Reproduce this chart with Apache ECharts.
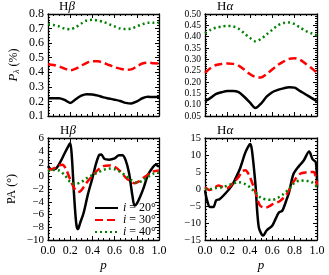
<!DOCTYPE html>
<html><head><meta charset="utf-8">
<script src="https://cdn.jsdelivr.net/npm/echarts@6/dist/echarts.min.js"></script>
<style>html,body{margin:0;padding:0;background:#fff}#c{width:329px;height:275px}</style>
</head><body><div id="c"></div>
<script>
// ---- data ----
const pGrid = [0,0.05,0.1,0.15,0.2,0.25,0.3,0.35,0.4,0.45,0.5,0.55,0.6,0.65,0.7,0.75,0.8,0.85,0.9,0.95,1.0];
// Polarization degree (%) Hbeta
const hbP20 = [0.222,0.222,0.222,0.21,0.19,0.215,0.24,0.25,0.248,0.24,0.228,0.22,0.212,0.203,0.19,0.185,0.2,0.222,0.232,0.23,0.232];
const hbP30 = [0.455,0.45,0.44,0.425,0.413,0.425,0.445,0.465,0.476,0.475,0.465,0.45,0.435,0.425,0.418,0.42,0.44,0.46,0.466,0.462,0.46];
const hbP40 = [0.73,0.725,0.715,0.7,0.695,0.71,0.735,0.755,0.76,0.755,0.745,0.73,0.715,0.7,0.697,0.7,0.715,0.73,0.74,0.74,0.74];
// Polarization degree (%) Halpha
const haP20 = [0.115,0.13,0.148,0.155,0.16,0.16,0.155,0.135,0.11,0.085,0.105,0.135,0.155,0.165,0.172,0.177,0.175,0.16,0.145,0.13,0.115];
const haP30 = [0.24,0.262,0.275,0.28,0.282,0.28,0.272,0.255,0.235,0.222,0.22,0.235,0.255,0.275,0.29,0.302,0.305,0.298,0.28,0.262,0.24];
const haP40 = [0.415,0.43,0.44,0.445,0.447,0.445,0.435,0.415,0.395,0.38,0.39,0.41,0.43,0.45,0.46,0.463,0.455,0.44,0.425,0.415,0.405];
// Polarization angle (deg) Hbeta
const hbPA20p = [0,0.03,0.07,0.11,0.15,0.18,0.2,0.215,0.235,0.255,0.27,0.29,0.32,0.36,0.4,0.43,0.46,0.48,0.51,0.55,0.6,0.64,0.67,0.7,0.73,0.76,0.78,0.8,0.83,0.86,0.9,0.94,0.97,1.0];
const hbPA20 = [1.6,1.1,1.2,2.2,3.6,4.6,5.2,3.0,-3.0,-7.5,-8.3,-7.3,-5.8,-2.8,-0.3,1.8,3.3,3.4,2.7,2.6,2.8,3.3,3.3,2.5,0.5,-3.0,-4.6,-4.3,-3.2,-1.9,0.2,1.3,1.8,1.5];
const hbPA30p = [0,0.05,0.1,0.13,0.16,0.2,0.24,0.27,0.3,0.34,0.4,0.45,0.5,0.55,0.6,0.65,0.7,0.75,0.78,0.82,0.88,0.94,1.0];
const hbPA30 = [1.0,1.2,1.7,1.8,1.2,-0.5,-2.0,-2.5,-2.2,-1.2,0.1,1.0,1.6,1.7,1.5,0.8,-0.2,-0.9,-1.1,-0.8,0.0,0.7,0.9];
const hbPA40 = [0.8,1.0,0.9,0.2,-0.9,-1.2,-0.9,-0.3,0.2,0.6,1.0,1.2,1.1,0.7,0.1,-0.6,-1.0,-0.7,-0.1,0.4,0.6];
// Polarization angle (deg) Halpha
const haPA20p = [0,0.02,0.045,0.075,0.1,0.13,0.18,0.24,0.27,0.31,0.36,0.39,0.405,0.42,0.45,0.48,0.52,0.55,0.6,0.63,0.66,0.69,0.72,0.75,0.79,0.84,0.88,0.93,0.96,0.99,1.0];
const haPA20 = [-0.4,-3.5,-5.3,-5.3,-3.3,-3.0,-1.4,1.0,2.9,5.8,10.7,12.7,13.2,11.2,1.5,-11.2,-13.7,-12.2,-10.8,-8.8,-6.9,-6.4,-3.9,-1.0,4.4,6.8,8.3,11.0,8.8,7.8,0.5];
const haPA30p = [0,0.04,0.08,0.12,0.16,0.2,0.25,0.3,0.33,0.36,0.4,0.45,0.49,0.54,0.61,0.67,0.73,0.79,0.85,0.91,0.97,1.0];
const haPA30 = [0.5,-0.3,0.3,1.0,0.6,0.3,1.7,3.5,5.2,5.5,3.6,-0.9,-4.8,-5.5,-4.4,-3.5,-1.5,2.1,4.5,4.9,5.0,1.0];
const haPA40 = [0,0,0.3,0.5,1.0,1.6,2.0,1.6,0.5,-1.0,-2.6,-3.1,-3.2,-2.6,-1.5,0.0,1.8,2.5,2.4,2.1,0.6];
// labels
const panelTitles = ['H','H','H','H'];
const panelGreek = ['β','α','β','α'];
const legendLabels = {i20:'20°', i30:'30°', i40:'40°'};

// ---- chart ----
const FONT = 'Liberation Serif';
const grids = [
  {left:48, top:14, width:111, height:102},
  {left:205, top:14, width:112, height:102},
  {left:48, top:138, width:111, height:102},
  {left:205, top:138, width:112, height:102}
];
const yCfg = [
  {min:0.1, max:0.8, interval:0.1, dec:1, minor:5, fs:12},
  {min:0.05, max:0.5, interval:0.05, dec:2, minor:5, fs:9.5},
  {min:-10, max:6, interval:2, dec:0, minor:4, fs:11},
  {min:-15, max:15, interval:5, dec:0, minor:5, fs:10.5}
];
const fmtNum = (v, d) => { const s = Math.abs(v).toFixed(d); return (v < -1e-9 ? '\u2212' : '') + s; };
const lineAx = {show:true, onZero:false, lineStyle:{color:'#000', width:1.3}};
const xAxes = [], yAxes = [];
grids.forEach((g, i) => {
  const showX = i >= 2;
  const base = {
    type:'value', gridIndex:i, min:0, max:1, interval:0.2,
    axisLine: lineAx, splitLine:{show:false},
    axisTick:{show:true, inside:true, length:4, lineStyle:{color:'#000', width:1}},
    minorTick:{show:true, splitNumber:4, length:2, lineStyle:{color:'#000', width:1}},
  };
  xAxes.push(Object.assign({}, base, {
    position:'bottom',
    axisLabel:{show:showX, margin:5, fontFamily:FONT, fontSize:12, color:'#000', formatter:v=>v.toFixed(1)},
    name: showX ? 'p' : '', nameLocation:'middle', nameGap:19,
    nameTextStyle:{fontFamily:FONT, fontStyle:'italic', fontSize:13, color:'#000'}
  }));
  xAxes.push(Object.assign({}, base, {position:'top', axisLabel:{show:false}}));
  const c = yCfg[i];
  const ybase = {
    type:'value', gridIndex:i, min:c.min, max:c.max, interval:c.interval,
    axisLine: lineAx, splitLine:{show:false},
    axisTick:{show:true, inside:true, length:4, lineStyle:{color:'#000', width:1}},
    minorTick:{show:true, splitNumber:c.minor, length:2, lineStyle:{color:'#000', width:1}},
  };
  let yName = '', nameGap = 28;
  if (i === 0) {
    yName = '{p|P}{s|λ} (%)'; nameGap = 27;
  } else if (i === 2) {
    yName = 'PA (°)'; nameGap = 30;
  }
  yAxes.push(Object.assign({}, ybase, {
    position:'left',
    axisLabel:{show:true, margin:4, fontFamily:FONT, fontSize:c.fs, color:'#000', formatter:v=>fmtNum(v, c.dec)},
    name:yName, nameLocation:'middle', nameRotate:90, nameGap:nameGap,
    nameTextStyle:{fontFamily:FONT, fontSize:12, color:'#000',
      rich:{p:{fontFamily:FONT, fontStyle:'italic', fontSize:13, color:'#000'},
            s:{fontFamily:FONT, fontStyle:'italic', fontSize:9, color:'#000', padding:[6,0,0,0]}}}
  }));
  yAxes.push(Object.assign({}, ybase, {position:'right', axisLabel:{show:false}}));
});

const sty = {
  i20:{color:'#000000', type:'solid', width:2.5},
  i30:{color:'#ff0000', type:[8,4], width:2.5},
  i40:{color:'#008000', type:[2,3], width:2.5}
};
function mk(name, xs, ys, gi) {
  return {
    name:name, type:'line', xAxisIndex:2*gi, yAxisIndex:2*gi,
    data: xs.map((x, k) => [x, ys[k]]),
    symbol:'none', smooth:0.3, clip:true, silent:true, animation:false,
    lineStyle:Object.assign({}, sty[name]), itemStyle:{color:sty[name].color}
  };
}
const series = [
  mk('i20', pGrid, hbP20, 0), mk('i30', pGrid, hbP30, 0), mk('i40', pGrid, hbP40, 0),
  mk('i20', pGrid, haP20, 1), mk('i30', pGrid, haP30, 1), mk('i40', pGrid, haP40, 1),
  mk('i20', hbPA20p, hbPA20, 2), mk('i30', hbPA30p, hbPA30, 2), mk('i40', pGrid, hbPA40, 2),
  mk('i20', haPA20p, haPA20, 3), mk('i30', haPA30p, haPA30, 3), mk('i40', pGrid, haPA40, 3)
];

const titlePos = [[59,0],[217,0],[60,124],[217,124]];
const titles = titlePos.map((pos, i) => ({
  text:'{h|' + panelTitles[i] + '}{g|' + panelGreek[i] + '}',
  left:pos[0], top:pos[1], padding:0,
  textStyle:{fontFamily:FONT, fontSize:13, color:'#000', fontWeight:'normal',
    rich:{h:{fontFamily:FONT, fontSize:13, color:'#000'}, g:{fontFamily:FONT, fontStyle:'italic', fontSize:13, color:'#000'}}}
}));

const chart = echarts.init(document.getElementById('c'), null, {renderer:'canvas'});
chart.setOption({
  animation:false,
  backgroundColor:'#fff',
  title: titles,
  grid: grids,
  xAxis: xAxes,
  yAxis: yAxes,
  legend: {
    data:['i20','i30','i40'], orient:'vertical', left:94, top:202,
    itemWidth:23, itemHeight:8, itemGap:0, padding:0,
    selectedMode:false,
    itemStyle:{opacity:0},
    formatter: n => '{i|i} = ' + legendLabels[n],
    textStyle:{fontFamily:FONT, fontSize:12, color:'#000', lineHeight:12,
      rich:{i:{fontFamily:FONT, fontStyle:'italic', fontSize:12, color:'#000'}}}
  },
  series: series
});
</script></body></html>
